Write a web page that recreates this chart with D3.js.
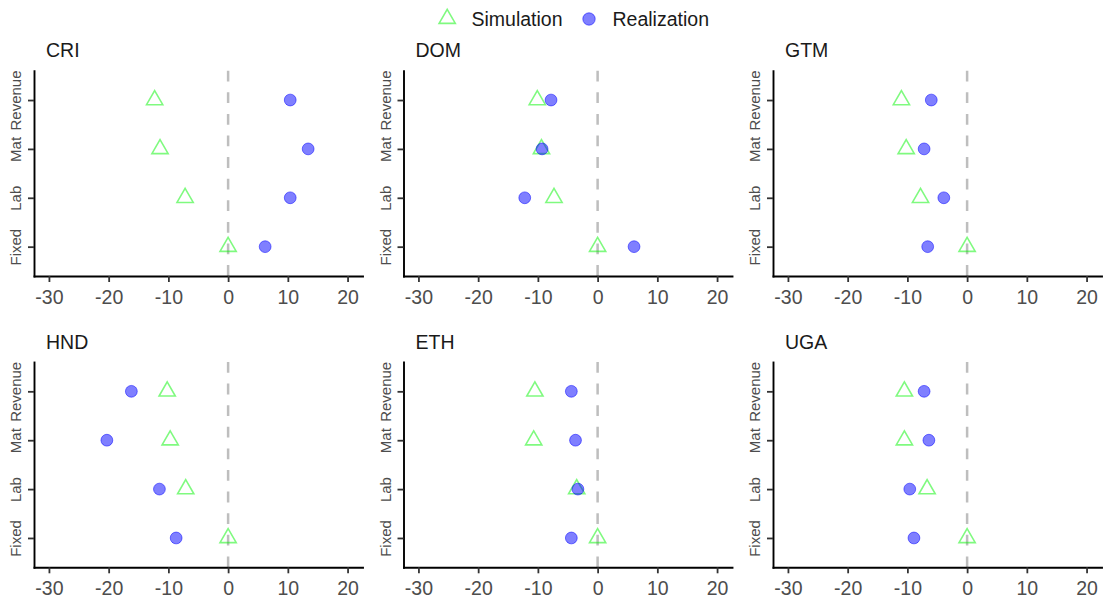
<!DOCTYPE html>
<html>
<head>
<meta charset="utf-8">
<script src="https://cdn.jsdelivr.net/npm/d3@7"></script>
<style>
  html, body { margin: 0; padding: 0; background: #ffffff; }
  svg { display: block; font-family: "Liberation Sans", Arial, Helvetica, sans-serif; }
</style>
</head>
<body>
<svg id="chart" width="1103" height="600"></svg>
<script>
// Cost components, listed bottom to top on each panel's y axis
const categories = ["Fixed", "Lab", "Mat", "Revenue"];
const countries = ["CRI", "DOM", "GTM", "HND", "ETH", "UGA"];
const xTicks = [-30, -20, -10, 0, 10, 20];

// Percent change per component (Fixed, Lab, Mat, Revenue)
const simCRI = [0, -7.2, -11.4, -12.3];
const realCRI = [6.2, 10.4, 13.4, 10.4];
const simDOM = [0, -7.3, -9.4, -10.1];
const realDOM = [6.1, -12.2, -9.3, -7.8];
const simGTM = [0, -7.8, -10.2, -11.0];
const realGTM = [-6.6, -3.9, -7.2, -6.0];
const simHND = [0, -7.1, -9.7, -10.2];
const realHND = [-8.7, -11.5, -20.3, -16.2];
const simETH = [0, -3.5, -10.7, -10.5];
const realETH = [-4.4, -3.3, -3.7, -4.4];
const simUGA = [0, -6.7, -10.5, -10.5];
const realUGA = [-8.9, -9.6, -6.4, -7.2];

const simulation = [simCRI, simDOM, simGTM, simHND, simETH, simUGA];
const realization = [realCRI, realDOM, realGTM, realHND, realETH, realUGA];

// Panel grid geometry
const colLefts = [34, 403.5, 773];
const rowTops = [70.7, 362];
const pw = 328.5, ph = 205.3;

const simColor = "rgba(0,245,0,0.5)";
const realFill = "rgba(0,0,255,0.5)";
const realStroke = "rgba(0,0,255,0.5)";
const tickGrey = "#4d4d4d";

const svg = d3.select("#chart");
const triangle = d3.symbol().type(d3.symbolTriangle).size(114);

countries.forEach((name, i) => {
  const col = i % 3, row = Math.floor(i / 3);
  const left = colLefts[col], top = rowTops[row];

  const x = d3.scaleLinear().domain([-32.5, 22.5]).range([0, pw]);
  const y = d3.scalePoint().domain(categories).range([ph, 0]).padding(0.6);

  const g = svg.append("g").attr("transform", `translate(${left},${top})`);

  // facet title
  g.append("text")
    .attr("x", 12).attr("y", -13.5)
    .attr("font-size", 19.5).attr("fill", "#1a1a1a")
    .text(name);

  // reference line at zero
  g.append("line")
    .attr("x1", x(0)).attr("x2", x(0))
    .attr("y1", 0).attr("y2", ph)
    .attr("stroke", "#bebebe").attr("stroke-width", 2.5)
    .attr("stroke-dasharray", "10.8 10.8");

  const rows = categories.map((c, k) => ({ cat: c, sim: simulation[i][k], real: realization[i][k] }));

  g.selectAll("path.sim").data(rows).join("path")
    .attr("class", "sim")
    .attr("d", triangle)
    .attr("transform", d => `translate(${x(d.sim)},${y(d.cat)})`)
    .attr("fill", "none").attr("stroke", simColor).attr("stroke-width", 1.6);

  g.selectAll("circle.real").data(rows).join("circle")
    .attr("class", "real")
    .attr("cx", d => x(d.real)).attr("cy", d => y(d.cat)).attr("r", 5.9)
    .attr("fill", realFill).attr("stroke", realStroke).attr("stroke-width", 1);

  // x axis
  const xa = g.append("g").attr("transform", `translate(0,${ph})`)
    .call(d3.axisBottom(x).tickValues(xTicks).tickSize(6).tickSizeOuter(0).tickFormat(d => String(d)));
  xa.select(".domain").attr("stroke", "#000").attr("stroke-width", 1.9).attr("stroke-linecap", "square");
  xa.selectAll(".tick line").attr("stroke", "#333").attr("stroke-width", 1.8);
  xa.selectAll(".tick text")
    .attr("y", 27.7).attr("dy", 0)
    .attr("font-size", 19.5).attr("fill", tickGrey)
    .attr("font-family", "Liberation Sans, Arial, sans-serif");

  // y axis with rotated category labels
  const ya = g.append("g")
    .call(d3.axisLeft(y).tickSize(6).tickSizeOuter(0));
  ya.select(".domain").attr("stroke", "#000").attr("stroke-width", 1.9).attr("stroke-linecap", "square");
  ya.selectAll(".tick line").attr("stroke", "#333").attr("stroke-width", 1.8);
  ya.selectAll(".tick text")
    .attr("x", 0).attr("y", -13).attr("dy", 0)
    .attr("text-anchor", "middle")
    .attr("transform", "rotate(-90)")
    .attr("font-size", 15).attr("fill", tickGrey)
    .attr("font-family", "Liberation Sans, Arial, sans-serif");
});

// legend
const legend = svg.append("g");
legend.append("path")
  .attr("d", triangle)
  .attr("transform", "translate(447.2,18.7)")
  .attr("fill", "none").attr("stroke", simColor).attr("stroke-width", 1.6);
legend.append("text")
  .attr("x", 471.5).attr("y", 26)
  .attr("font-size", 19.5).attr("fill", "#1a1a1a")
  .text("Simulation");
legend.append("circle")
  .attr("cx", 589).attr("cy", 19).attr("r", 6.2)
  .attr("fill", realFill).attr("stroke", realStroke).attr("stroke-width", 1);
legend.append("text")
  .attr("x", 612.5).attr("y", 26)
  .attr("font-size", 19.5).attr("fill", "#1a1a1a")
  .text("Realization");
</script>
</body>
</html>
